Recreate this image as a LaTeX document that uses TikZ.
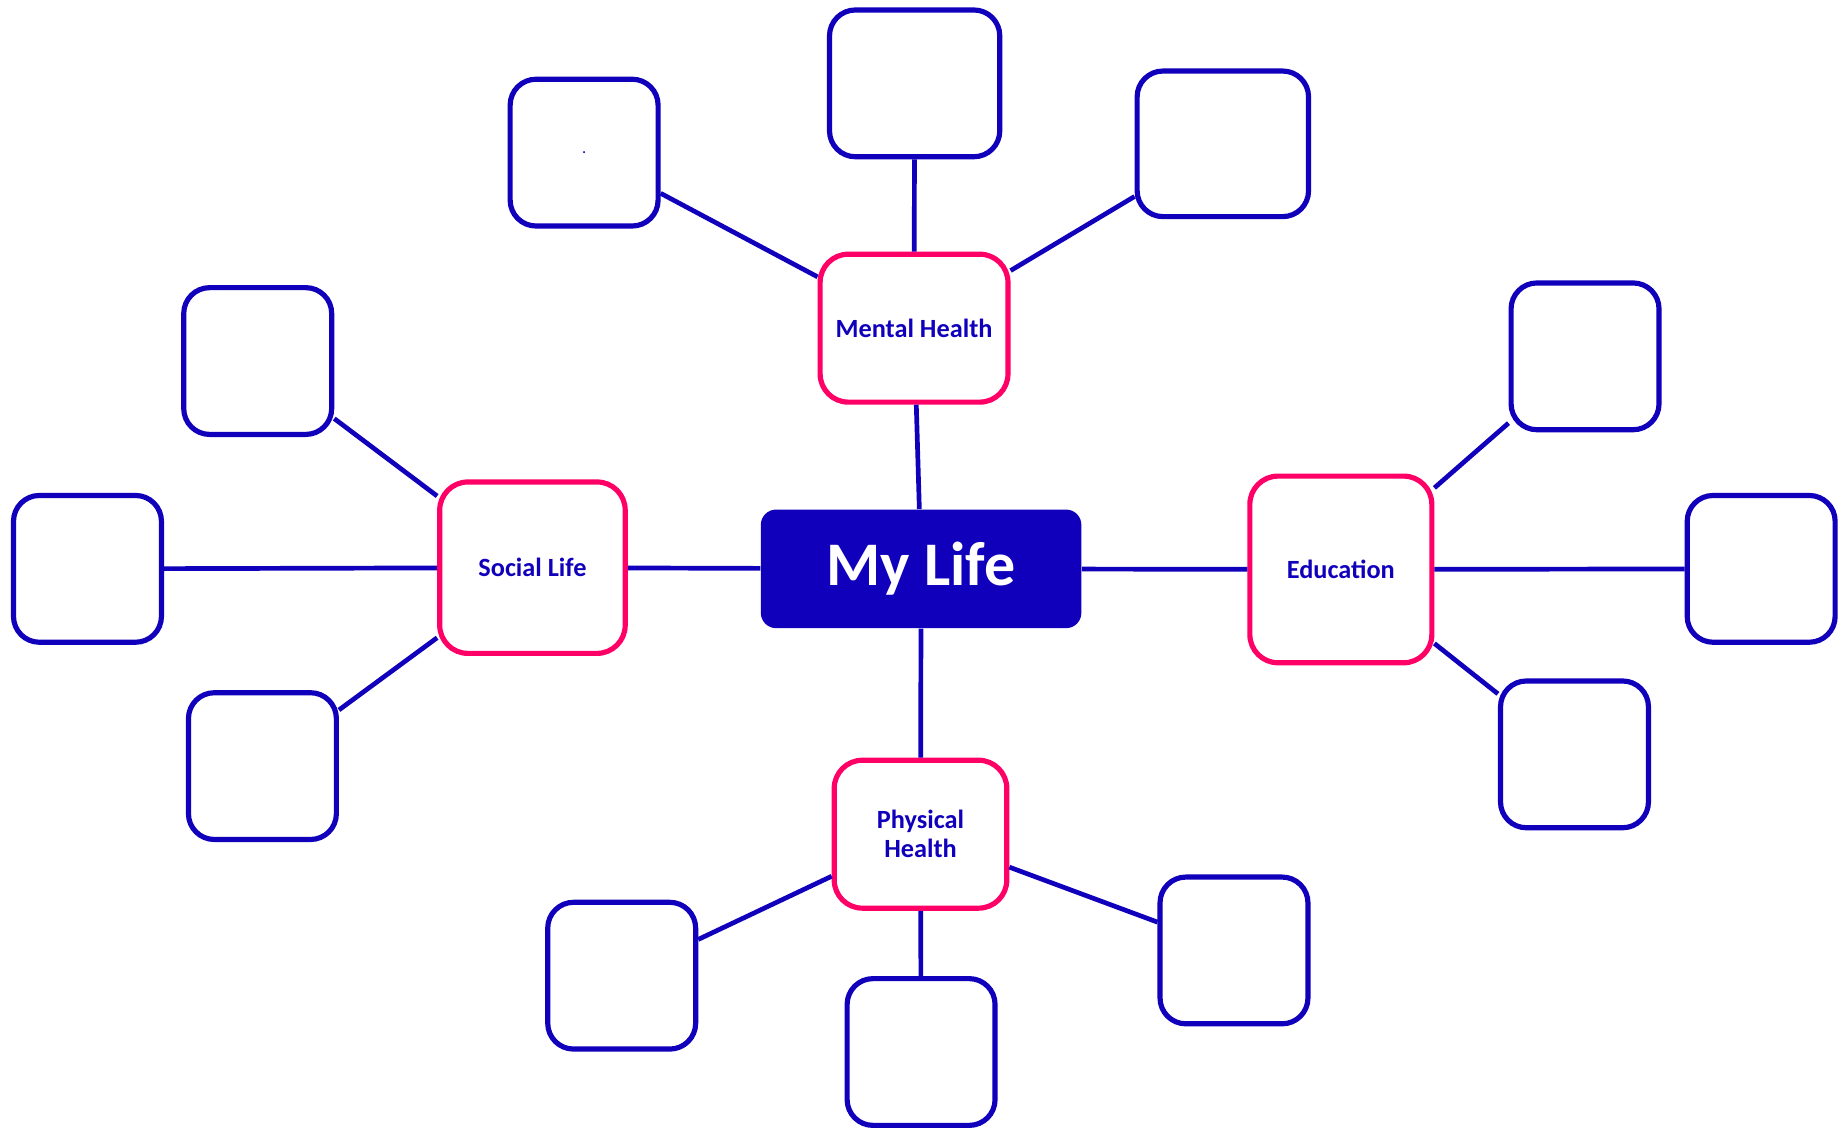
\documentclass[tikz,border=0pt]{standalone}
\usepackage{fontspec}
\setmainfont{Carlito}
\definecolor{mlblue}{HTML}{1100BB}
\definecolor{mlpink}{HTML}{FF0066}
\def\lk{\draw[link]}

\begin{document}
\begin{tikzpicture}[x=0.5pt,y=-0.5pt,
    hub/.style={draw=mlpink,line width=2.2pt,rounded corners=12pt,fill=white,text=mlblue,
      font=\bfseries\fontsize{11.2}{12.4}\selectfont,align=center,inner sep=0pt},
    leaf/.style={draw=mlblue,line width=2.2pt,rounded corners=11pt,fill=white,text=mlblue,
      minimum width=63pt,minimum height=62.5pt,inner sep=0pt},
    link/.style={draw=mlblue,line width=2pt}]
  \useasboundingbox (0,0) rectangle (1568,962);
  % centre
  \node[fill=mlblue,rounded corners=6.5pt,minimum width=136.5pt,minimum height=50.5pt,
    text=white,font=\bfseries\fontsize{26.4}{30}\selectfont] (my) at (784.5,484.5) {My Life};
  % four themes
  \node[hub,minimum width=80pt,minimum height=63pt]   (mental) at (778.5,279.5) {Mental Health};
  \node[hub,minimum width=79pt,minimum height=73pt]   (social) at (453.5,483.5) {Social Life};
  \node[hub,minimum width=77.5pt,minimum height=79.5pt] (educ) at (1142,485)    {Education};
  \node[hub,minimum width=73.5pt,minimum height=63pt] (phys)   at (784,710.5)   {Physical\\Health};
  % empty boxes
  \node[leaf] (mentalA) at (497.5,130) {\scriptsize.};
  \node[leaf,minimum width=72.5pt] (mentalB) at (779,71) {};
  \node[leaf,minimum width=73pt,minimum height=62pt] (mentalC) at (1041.5,122.5) {};
  \node[leaf] (socialA) at (219.5,307.5) {};
  \node[leaf] (socialB) at (74.5,484.5) {};
  \node[leaf] (socialC) at (223.5,652.5) {};
  \node[leaf] (educA) at (1350,303.5) {};
  \node[leaf] (educB) at (1500,484.5) {};
  \node[leaf] (educC) at (1341,642.5) {};
  \node[leaf] (physA) at (529.5,831) {};
  \node[leaf] (physB) at (784.5,896) {};
  \node[leaf] (physC) at (1051,809.5) {};
  % links
  \lk (my) -- (mental);
  \lk (my) -- (social);
  \lk (my) -- (educ);
  \lk (my) -- (phys);
  \lk (mental) -- (mentalA);
  \lk (mental) -- (mentalB);
  \lk (mental) -- (mentalC);
  \lk (social) -- (socialA);
  \lk (social) -- (socialB);
  \lk (social) -- (socialC);
  \lk (educ) -- (educA);
  \lk (educ) -- (educB);
  \lk (educ) -- (educC);
  \lk (phys) -- (physA);
  \lk (phys) -- (physB);
  \lk (phys) -- (physC);
\end{tikzpicture}
\end{document}
